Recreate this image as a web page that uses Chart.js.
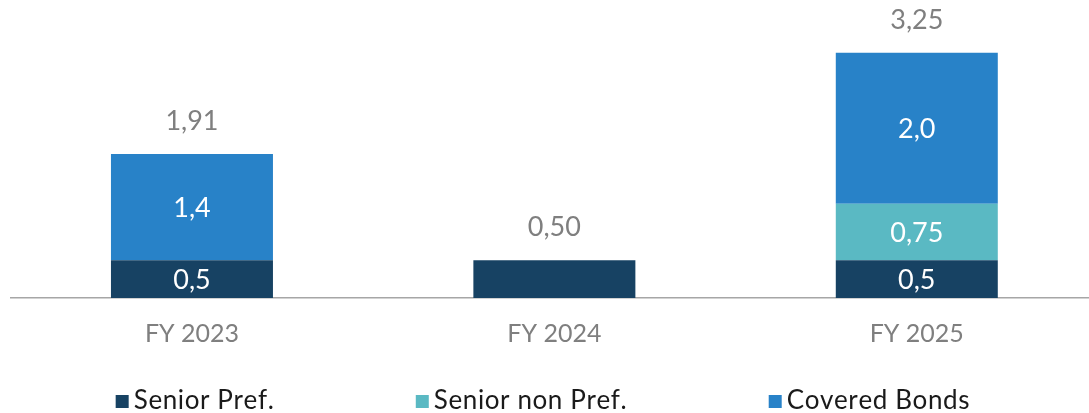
<!DOCTYPE html>
<html>
<head>
<meta charset="utf-8">
<script src="https://cdn.jsdelivr.net/npm/chart.js@4.4.1/dist/chart.umd.min.js"></script>
<style>
html,body{margin:0;padding:0;background:#fff;overflow:hidden;width:1089px;height:413px;}
canvas{display:block;}
</style>
</head>
<body>
<canvas id="c" width="1100" height="413" style="width:1100px;height:413px"></canvas>
<script>
const categories = ['FY 2023', 'FY 2024', 'FY 2025'];
const seniorPref = [0.5, 0.5, 0.5];
const seniorNonPref = [0, 0, 0.75];
const coveredBonds = [1.41, 0, 2.0];
const seriesNames = ['Senior Pref.', 'Senior non Pref.', 'Covered Bonds'];
const seriesColors = ['#174263', '#5ab9c3', '#2882c8'];
const seriesDecimals = [1, 2, 1];

const FONT = 'Lato, "Open Sans", sans-serif';
const fmt = (v, d) => v.toFixed(d).replace('.', ',');

const valueLabels = {
  id: 'valueLabels',
  afterDatasetsDraw(chart) {
    const ctx = chart.ctx;
    ctx.save();
    ctx.textAlign = 'center';
    ctx.textBaseline = 'middle';
    ctx.font = '27px ' + FONT;
    ctx.fillStyle = '#ffffff';
    const n = chart.data.labels.length;
    const tops = new Array(n).fill(Infinity);
    const totals = new Array(n).fill(0);
    chart.data.datasets.forEach((ds, di) => {
      const meta = chart.getDatasetMeta(di);
      meta.data.forEach((bar, i) => {
        const v = ds.data[i];
        if (!v) return;
        totals[i] += v;
        tops[i] = Math.min(tops[i], bar.y);
        if (i === 1) return; // FY 2024 shows only total
        const cy = (bar.y + bar.base) / 2;
        ctx.fillText(fmt(v, seriesDecimals[di]), bar.x, cy + 1);
      });
    });
    ctx.fillStyle = '#7f7f7f';
    const meta0 = chart.getDatasetMeta(0);
    for (let i = 0; i < n; i++) {
      ctx.fillText(fmt(totals[i], 2), meta0.data[i].x, tops[i] - 33);
    }
    ctx.restore();
  }
};

const customLegend = {
  id: 'customLegend',
  afterDraw(chart) {
    const ctx = chart.ctx;
    ctx.save();
    ctx.font = '26px ' + FONT;
    ctx.textBaseline = 'middle';
    ctx.textAlign = 'left';
    const ls = 0.6;
    const box = 13, gapText = 5, gapItem = 143;
    const items = chart.data.datasets.map(ds => ({text: ds.label, color: ds.backgroundColor,
      w: ctx.measureText(ds.label).width + ls * ds.label.length}));
    const total = items.reduce((s, it) => s + box + gapText + it.w, 0) + gapItem * (items.length - 1);
    let x = 542 - total / 2;
    const cy = 401;
    items.forEach(it => {
      ctx.fillStyle = it.color;
      ctx.fillRect(x, cy - 6, box, box);
      ctx.fillStyle = '#1a1a1a';
      let tx = x + box + gapText;
      for (const ch of it.text) {
        ctx.fillText(ch, tx, cy);
        tx += ctx.measureText(ch).width + ls;
      }
      x += box + gapText + it.w + gapItem;
    });
    ctx.restore();
  }
};

new Chart(document.getElementById('c'), {
  type: 'bar',
  data: {
    labels: categories,
    datasets: [
      {label: seriesNames[0], data: seniorPref, backgroundColor: seriesColors[0]},
      {label: seriesNames[1], data: seniorNonPref, backgroundColor: seriesColors[1]},
      {label: seriesNames[2], data: coveredBonds, backgroundColor: seriesColors[2]}
    ]
  },
  options: {
    responsive: false,
    animation: false,
    devicePixelRatio: 1,
    layout: {padding: {left: 10.75, right: 2, top: 0, bottom: 65}},
    datasets: {bar: {categoryPercentage: 1, barPercentage: 0.447, borderWidth: 0}},
    plugins: {legend: {display: false}, tooltip: {enabled: false}},
    scales: {
      x: {
        stacked: true,
        grid: {display: false, drawTicks: false},
        border: {display: true, color: '#a6a6a6', width: 1.5},
        ticks: {color: '#7f7f7f', font: {family: FONT, size: 25}, padding: 21},
        afterFit: s => { s.height = 50; }
      },
      y: {
        stacked: true,
        display: false,
        min: 0,
        max: 3.95
      }
    }
  },
  plugins: [valueLabels, customLegend]
});
</script>
</body>
</html>
